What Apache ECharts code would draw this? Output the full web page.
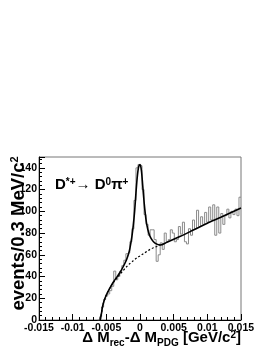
<!DOCTYPE html>
<html>
<head>
<meta charset="utf-8">
<script src="https://cdn.jsdelivr.net/npm/echarts@6/dist/echarts.min.js"></script>
<style>html,body{margin:0;padding:0;background:#fff}#c{width:270px;height:350px}</style>
</head>
<body>
<div id="c"></div>
<script>
// ---- data ----
var xTickLabels = ['-0.015', '-0.01', '-0.005', '0', '0.005', '0.01', '0.015'];
var yTickLabels = ['0', '20', '40', '60', '80', '100', '120', '140'];
var binWidth = 0.0003;
var histStart = -0.0063; // left edge of first listed bin
var histCounts = [0, 3, 12, 19, 22, 24, 27, 31, 45, 37, 40, 45, 50, 55, 61, 62, 72, 84, 110, 140, 143, 142, 120, 97, 88, 78, 83, 83, 74, 54, 60, 71, 65, 80, 72, 74, 83, 80, 72, 74, 86, 79, 90, 72, 70, 84, 78, 92, 84, 101, 86, 95, 88, 99, 90, 104, 92, 106, 78, 104, 80, 98, 88, 96, 102, 94, 100, 97, 102, 96, 113];
var fitX = [-0.0059, -0.0057, -0.0055, -0.0052, -0.005, -0.0045, -0.004, -0.0035, -0.003, -0.0025, -0.002, -0.0017, -0.0015, -0.0012, -0.001, -0.0008, -0.0006, -0.0004, -0.0002, 0, 0.0002, 0.0004, 0.0006, 0.0008, 0.001, 0.0013, 0.0016, 0.002, 0.0025, 0.003, 0.004, 0.006, 0.008, 0.01, 0.012, 0.015];
var fitY = [0, 7, 14, 20, 23, 29, 34.5, 39, 43.5, 49, 55.5, 61, 66, 77, 87, 100, 117, 132, 141, 143, 138, 124, 109, 97, 88, 80, 75.5, 72, 69.8, 69, 71.5, 77, 83, 89, 94.5, 103];
var bkgX = [-0.0059, -0.0057, -0.0055, -0.0052, -0.005, -0.0045, -0.004, -0.0035, -0.003, -0.0025, -0.002, -0.0015, -0.001, -0.0005, 0, 0.0005, 0.001, 0.0015, 0.002, 0.0025, 0.003];
var bkgY = [0, 7, 14, 20, 23, 29, 34, 38, 42, 45.5, 49, 52, 54.5, 57, 59, 61, 63, 65, 66.5, 67.7, 69];

// ---- build ----
var histData = [];
for (var k = 0; k < histCounts.length; k++) {
  histData.push([histStart + k * binWidth, histCounts[k]]);
}
histData.push([histStart + histCounts.length * binWidth, histCounts[histCounts.length - 1]]);
function zip(a, b) { return a.map(function (v, i) { return [v, b[i]]; }); }

var FONT = "'Liberation Sans', Arial, Helvetica, sans-serif";
function base(size, extra) {
  var o = { fontFamily: FONT, fontWeight: 'bold', color: '#000', fontSize: size };
  for (var k in extra) o[k] = extra[k];
  return o;
}
var xMin = -0.015, xInt = 0.005, yInt = 20;

var chart = echarts.init(document.getElementById('c'), null, { renderer: 'canvas' });
chart.setOption({
  backgroundColor: '#fff',
  animation: false,
  title: [
    {
      right: 29, top: 330, padding: 0,
      text: '{m|Δ M}{s|rec}{m|-Δ M}{s|PDG}{m| [GeV/c}{p|2}{m|]}',
      textStyle: {
        rich: {
          m: base(15, { lineHeight: 17, verticalAlign: 'top' }),
          s: base(10, { lineHeight: 10, padding: [8, 0, 0, 0], verticalAlign: 'top' }),
          p: base(10, { lineHeight: 10, verticalAlign: 'top' })
        }
      }
    },
    {
      left: 55, top: 177, padding: 0,
      text: '{m|D}{p|*+}{a|→}{m| D}{p|0}{m|π}{p|+}',
      textStyle: {
        rich: {
          m: base(15, { lineHeight: 18, verticalAlign: 'top' }),
          a: base(15, { lineHeight: 18, verticalAlign: 'top', fontWeight: 'normal' }),
          p: base(10, { lineHeight: 10, verticalAlign: 'top' })
        }
      }
    }
  ],
  grid: { left: 39, right: 29, top: 157, bottom: 30, show: true, borderColor: '#777', borderWidth: 1, backgroundColor: '#fff' },
  xAxis: {
    type: 'value', min: xMin, max: 0.015, interval: xInt,
    axisLine: { show: true, onZero: false, lineStyle: { color: '#000', width: 1 } },
    axisTick: { show: true, inside: true, length: 6, lineStyle: { color: '#000' } },
    minorTick: { show: true, splitNumber: 5, length: 3, lineStyle: { color: '#000' } },
    splitLine: { show: false },
    axisLabel: {
      margin: 3, fontFamily: FONT, fontWeight: 'bold', fontSize: 10.5, color: '#000',
      formatter: function (v) { return xTickLabels[Math.round((v - xMin) / xInt)]; }
    }
  },
  yAxis: {
    type: 'value', min: 0, max: 150, interval: yInt,
    axisLine: { show: true, onZero: false, lineStyle: { color: '#000', width: 1 } },
    axisTick: { show: true, inside: true, length: 6, lineStyle: { color: '#000' } },
    minorTick: { show: true, splitNumber: 5, length: 3, lineStyle: { color: '#000' } },
    splitLine: { show: false },
    axisLabel: {
      margin: 2, showMaxLabel: false, fontFamily: FONT, fontWeight: 'bold', fontSize: 10.5, color: '#000',
      formatter: function (v) { var i = Math.round(v / yInt); return yTickLabels[i] !== undefined ? yTickLabels[i] : ''; }
    },
    name: '{m|events/0.3 MeV/c}{p|2}',
    nameLocation: 'middle', nameRotate: 90, nameGap: 10, nameMoveOverlap: false,
    nameTextStyle: {
      padding: [0, 0, 0, 10],
      rich: {
        m: base(18.5, { lineHeight: 20, verticalAlign: 'top' }),
        p: base(11, { lineHeight: 11, verticalAlign: 'top' })
      }
    }
  },
  series: [
    {
      type: 'line', data: histData, step: 'end', symbol: 'none', silent: true,
      lineStyle: { color: '#8a8a8a', width: 1 }, z: 1
    },
    {
      type: 'line', data: zip(bkgX, bkgY), smooth: 0.3, symbol: 'none', silent: true,
      lineStyle: { color: '#000', width: 1.2, type: [2, 2] }, z: 2
    },
    {
      type: 'line', data: zip(fitX, fitY), smooth: 0.3, symbol: 'none', silent: true,
      lineStyle: { color: '#000', width: 1.6 }, z: 3
    }
  ]
});
</script>
</body>
</html>
